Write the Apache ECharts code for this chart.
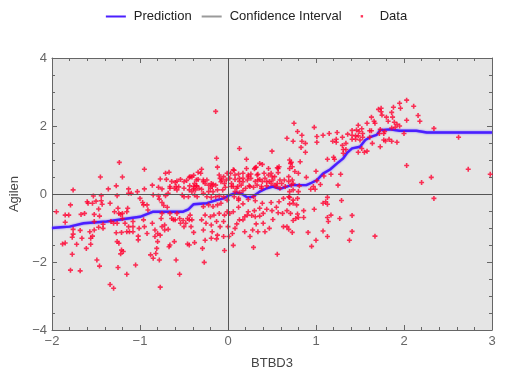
<!DOCTYPE html>
<html>
<head>
<meta charset="utf-8">
<script src="https://cdn.jsdelivr.net/npm/echarts@6/dist/echarts.min.js"></script>
<style>
html,body{margin:0;padding:0;background:#fff;}
#chart{width:513px;height:379px;}
</style>
</head>
<body>
<div id="chart"></div>
<script>
// Axis ranges / ticks
const xRange = [-2, 3];
const yRange = [-4, 4];
const xTitle = 'BTBD3';
const yTitle = 'Agilen';
const seriesNames = ['Prediction', 'Confidence Interval', 'Data'];

// Prediction curve
const predX = [-2.0, -1.9, -1.8, -1.64, -1.38, -1.0, -0.85, -0.51, -0.45, -0.39, -0.24, -0.13, -0.05, 0.02, 0.1, 0.16, 0.22, 0.28, 0.36, 0.44, 0.51, 0.59, 0.65, 0.72, 0.89, 0.95, 1.01, 1.08, 1.16, 1.24, 1.31, 1.35, 1.41, 1.5, 1.56, 1.63, 1.69, 1.73, 1.84, 1.95, 2.14, 2.26, 3.0];
const predY = [-1.0, -0.98, -0.96, -0.86, -0.81, -0.67, -0.52, -0.52, -0.45, -0.3, -0.27, -0.18, -0.13, -0.03, 0.04, 0.0, -0.1, -0.08, 0.07, 0.17, 0.22, 0.15, 0.2, 0.26, 0.26, 0.33, 0.41, 0.6, 0.72, 0.9, 1.05, 1.2, 1.34, 1.39, 1.59, 1.69, 1.74, 1.88, 1.9, 1.86, 1.86, 1.81, 1.81];

// Data points, grouped by region [x, y]
const ptsUpperLeft = [[-1.235,0.93],[-1.45,0.50],[-1.20,0.50],[-0.95,0.73],[-1.76,0.12],[-1.36,0.15],[-1.27,0.24],[-1.13,0.15],[-0.95,0.15],[-0.86,0.26],[-0.77,0.44],[-0.71,0.61],[-0.67,0.64],[-0.70,0.43],[-0.64,0.37],[-0.60,0.34],[-0.54,0.43],[-0.56,0.21],[-0.75,0.15],[-0.66,0.17],[-0.47,0.40],[-0.44,0.49],[-0.41,0.50],[-0.39,0.55],[-0.34,0.43],[-0.34,0.64],[-0.38,0.31],[-0.435,0.24],[-0.355,0.24],[-0.39,0.16],[-0.33,0.17]];
const ptsLowerLeft = [[-1.95,-0.52],[-1.85,-0.62],[-1.81,-0.62],[-1.79,-0.32],[-1.85,-0.83],[-1.76,-1.04],[-1.76,-1.18],[-1.77,-1.27],[-1.88,-1.47],[-1.85,-1.44],[-1.77,-1.77],[-1.79,-2.24],[-1.68,-2.26],[-1.72,-1.48],[-1.68,-1.07],[-1.67,-0.60],[-1.63,-0.57],[-1.60,-0.23],[-1.59,-0.27],[-1.54,-0.27],[-1.53,-0.06],[-1.50,-0.21],[-1.44,-0.05],[-1.44,-0.20],[-1.43,-0.30],[-1.47,-0.44],[-1.52,-0.60],[-1.46,-0.65],[-1.66,-1.30],[-1.61,-1.60],[-1.56,-1.48],[-1.56,-1.30],[-1.54,-1.24],[-1.57,-1.11],[-1.52,-1.06],[-1.49,-1.94],[-1.46,-2.12],[-1.42,-1.01],[-1.47,-0.98],[-1.34,-0.27],[-1.29,-0.52],[-1.26,-0.05],[-1.25,-0.42],[-1.24,-0.57],[-1.22,-0.60],[-1.20,-0.57],[-1.20,-0.72],[-1.15,-0.52],[-1.14,-0.42],[-1.13,0.02],[-1.10,0.02],[-1.03,0.07],[-1.00,-0.13],[-0.97,-0.25],[-0.96,-0.32],[-0.92,-0.32],[-0.91,-0.47],[-1.26,-0.86],[-1.30,-0.86],[-1.33,-0.81],[-1.27,-1.14],[-1.21,-1.13],[-1.26,-1.40],[-1.24,-1.45],[-1.21,-1.65],[-1.19,-1.69],[-1.22,-1.76],[-1.25,-2.16],[-1.15,-1.11],[-1.12,-1.11],[-1.13,-0.96],[-1.08,-0.96],[-1.08,-1.11],[-1.02,-1.24],[-1.02,-1.35],[-1.01,-1.01],[-1.05,-2.09],[-1.15,-2.36],[-1.34,-2.66],[-1.30,-2.77],[-1.08,-0.81],[-1.17,-0.86],[-1.42,-0.89],[-1.52,-0.81]];
const ptsMidLeft = [[-0.96,-0.76],[-0.95,-0.96],[-0.92,-1.16],[-0.86,-0.86],[-0.88,-1.79],[-0.85,-1.89],[-0.82,-1.75],[-0.78,-1.94],[-0.81,-1.60],[-0.80,-1.40],[-0.83,-1.06],[-0.80,-1.16],[-0.83,-1.25],[-0.77,-1.21],[-0.75,-0.96],[-0.75,-0.57],[-0.76,-0.72],[-0.72,-0.91],[-0.72,-1.06],[-0.79,-0.06],[-0.85,-0.03],[-0.78,-0.15],[-0.75,-0.25],[-0.73,-0.34],[-0.71,-0.05],[-0.68,0.02],[-0.66,0.22],[-0.69,-0.39],[-0.66,-0.57],[-0.64,-0.72],[-0.62,-0.76],[-0.60,-0.76],[-0.68,-1.04],[-0.67,-1.55],[-0.66,-1.50],[-0.61,-1.40],[-0.59,-1.94],[-0.55,-2.36],[-0.77,-2.74],[-0.58,-0.57],[-0.55,-0.72],[-0.54,-0.86],[-0.51,-0.78],[-0.50,-0.96],[-0.48,-0.86],[-0.46,-0.72],[-0.44,-0.76],[-0.43,-0.62],[-0.41,-0.76],[-0.39,-1.13],[-0.38,-1.43],[-0.44,-1.50],[-0.46,-1.47],[-0.42,-0.96],[-0.45,-0.08],[-0.50,-0.08],[-0.52,-0.03],[-0.50,0.17],[-0.44,0.12],[-0.41,0.07],[-0.37,0.12],[-0.38,-0.03],[-0.35,-0.08],[-0.36,0.24],[-0.50,0.36],[-0.58,0.38],[-0.59,0.22],[-0.61,0.17],[-0.79,0.20],[-0.58,0.12]];
const ptsCenter = [[-0.13,1.05],[-0.12,0.79],[-0.30,0.73],[-0.31,0.61],[-0.28,0.41],[-0.26,0.31],[-0.22,0.26],[-0.19,0.31],[-0.18,0.22],[-0.14,0.26],[-0.10,0.56],[-0.09,0.46],[-0.08,0.36],[-0.05,0.51],[-0.04,0.31],[-0.02,0.41],[-0.01,0.61],[-0.03,0.20],[-0.06,0.12],[-0.12,0.12],[-0.17,0.07],[-0.22,0.07],[-0.28,0.02],[-0.30,0.14],[-0.24,-0.08],[-0.19,-0.10],[-0.14,-0.08],[-0.10,-0.06],[-0.05,-0.08],[-0.01,-0.18],[-0.08,-0.27],[-0.12,-0.32],[-0.17,-0.37],[-0.22,-0.32],[-0.28,-0.37],[-0.26,-0.62],[-0.20,-0.67],[-0.16,-0.62],[-0.10,-0.57],[-0.04,-0.62],[-0.01,-0.52],[-0.30,-0.76],[-0.25,-0.86],[-0.19,-0.91],[-0.13,-0.81],[-0.09,-0.96],[-0.05,-0.81],[0.00,-0.96],[-0.28,-1.06],[-0.18,-1.11],[-0.12,-1.21],[-0.05,-1.25],[-0.19,-1.30],[-0.29,-1.60],[-0.27,-2.01],[-0.26,-1.36],[-0.13,-1.32],[-0.04,-1.66],[-0.14,2.43],
  [-0.43,0.51],[-0.36,0.41],[-0.28,0.36],[-0.24,0.41],[-0.17,0.29],[-0.07,0.41],[0.02,0.46],[0.04,0.22],[0.08,0.56],[0.13,0.46],[0.17,0.36],[0.23,0.51],[0.25,0.22],[0.33,0.56],[0.34,0.41],[0.38,0.22],[0.44,0.36],[0.50,0.51],[0.53,0.26],[0.57,0.75],[0.59,0.41],[0.65,0.22],[0.69,0.51],[0.74,0.31],[0.76,0.66],[-0.20,0.17],[0.10,0.17],[-0.39,0.22]];
const ptsLowerRight = [[0.06,-1.51],[0.01,-1.25],[0.29,-1.57],[0.25,-1.25],[0.56,-1.77],[0.95,-1.54],[1.00,-1.36],[1.13,-1.25],[0.49,-0.25],[0.55,-0.39],[0.57,-0.55],[0.50,-0.49],[0.44,-0.45],[0.40,-0.57],[0.36,-0.65],[0.31,-0.67],[0.27,-0.63],[0.22,-0.62],[0.19,-0.67],[0.17,-0.76],[0.13,-0.76],[0.10,-0.88],[0.08,-1.01],[0.05,-1.16],[0.19,-1.11],[0.28,-1.06],[0.34,-1.11],[0.32,-0.88],[0.40,-0.86],[0.42,-1.11],[0.47,-1.01],[0.51,-0.75],[0.63,-0.96],[0.67,-0.96],[0.69,-1.04],[0.73,-1.13],[0.62,-0.57],[0.67,-0.49],[0.71,-0.57],[0.74,-0.78],[0.77,-0.72],[0.79,-0.59],[0.80,-0.69],[0.86,-0.49],[0.86,-0.69],[0.91,-1.13],[0.98,-0.45],[1.08,-1.09],[1.13,-0.69],[1.14,-0.81],[1.17,-0.62],[1.27,-0.72],[1.38,-1.36],[1.11,-0.23],[1.13,-0.10],[1.13,-0.30],[1.29,-0.19],[1.25,0.26],[1.05,0.28],[0.99,0.14],[0.94,0.14],[0.39,-0.27],[0.36,-0.42],[0.30,-0.49],[0.23,-0.52],[0.17,-0.29],[0.12,-0.39],[0.06,-0.52],[0.02,-0.57],[0.23,-0.16],[0.31,-0.20],[0.12,-0.18],[0.70,-0.29],[0.74,-0.18],[0.78,-0.32],[0.70,-0.10],[0.63,-0.13],[0.58,-0.23]];
const ptsUpperCenter = [[0.21,1.02],[0.36,0.90],[0.39,0.87],[0.32,0.79],[0.30,0.74],[0.06,0.71],[0.12,0.59],[0.17,0.61],[0.23,0.56],[0.26,0.59],[0.34,0.58],[0.41,0.61],[0.46,0.56],[0.49,0.61],[0.53,0.51],[0.57,0.63],[0.58,0.80],[0.70,1.0],[0.71,0.90],[0.73,0.80],[0.80,0.61],[0.82,0.95],[0.88,1.23],[0.73,0.41],[0.69,0.37],[0.64,0.41],[0.61,0.31],[0.56,0.31],[0.51,0.41],[0.47,0.37],[0.42,0.46],[0.39,0.37],[0.36,0.43],[0.31,0.37],[0.26,0.46],[0.22,0.41],[0.17,0.46],[0.13,0.37],[0.08,0.43],[0.04,0.31],[0.06,0.22],[0.11,0.22],[0.15,0.26],[0.20,0.17],[0.24,0.24],[0.29,0.20],[0.33,0.26],[0.38,0.17],[0.44,0.24],[0.49,0.31],[0.55,0.22],[0.59,0.17],[0.08,0.07],[0.13,0.04],[0.17,0.10],[0.07,-0.08],[0.12,-0.13],[0.29,-0.08],[0.69,-0.08],[0.74,-0.27],[0.79,-0.13],[0.70,0.07],[0.74,0.12],[0.80,0.07],[0.72,0.26],[0.81,0.24],[0.97,0.22],[1.08,-0.27]];
const ptsUpperMid = [[0.13,1.34],[0.50,1.26],[0.67,1.64],[0.75,2.08],[0.79,1.84],[0.74,1.55],[0.84,1.73],[0.84,1.55],[0.83,1.37],[0.88,1.49],[0.72,0.93],[0.98,1.96],[1.01,1.69],[1.01,1.52],[1.08,1.73],[1.15,1.78],[1.19,1.55],[1.23,1.61],[1.23,1.52],[1.24,1.81],[1.30,1.67],[1.30,1.43],[1.34,1.49],[1.36,1.76],[1.34,1.31],[1.31,1.31],[1.13,1.02],[1.20,1.08],[1.21,1.02],[1.28,0.58],[1.17,0.58],[1.00,0.67],[1.09,0.53],[1.01,0.39],[0.89,0.49],[0.07,0.70],[0.03,0.61],[0.21,0.75],[0.31,0.77],[0.46,0.75],[0.56,0.77],[0.70,0.75]];
const ptsRight = [[2.03,2.76],[1.95,2.67],[1.96,2.52],[1.88,2.55],[2.11,2.58],[1.74,2.52],[1.71,2.49],[1.74,2.42],[1.75,2.32],[1.86,2.40],[2.16,2.31],[2.18,2.14],[2.03,2.17],[1.80,2.26],[1.87,2.26],[1.82,2.14],[1.89,2.11],[1.92,2.05],[1.95,2.0],[1.90,1.96],[1.86,1.94],[1.78,1.84],[1.77,1.78],[1.73,1.90],[1.72,1.78],[1.63,2.26],[1.66,2.14],[1.67,2.08],[1.58,2.08],[1.48,2.02],[1.52,1.92],[1.49,1.84],[1.46,1.88],[1.41,1.87],[1.41,1.73],[1.45,1.71],[1.48,1.71],[1.41,1.61],[1.45,1.61],[1.50,1.59],[1.53,1.67],[1.53,1.78],[1.61,1.86],[1.63,1.86],[1.61,1.67],[1.64,1.49],[1.52,1.34],[1.55,1.23],[1.58,1.26],[1.48,1.23],[1.31,1.20],[1.73,1.39],[1.77,1.59],[1.79,1.56],[1.83,1.61],[1.86,1.55],[1.92,1.52],[2.00,1.78],[2.03,0.84],[2.34,1.93],[2.62,1.67],[2.73,0.73],[2.31,0.49],[2.20,0.34],[2.98,0.58],[2.34,-0.13],[1.41,-0.63],[1.41,-1.10],[1.67,-1.24]];

const allPoints = [].concat(ptsUpperLeft, ptsLowerLeft, ptsMidLeft, ptsCenter, ptsLowerRight, ptsUpperCenter, ptsUpperMid, ptsRight);
const predData = predX.map((x, i) => [x, predY[i]]);

const BLUE = '#4b1fff';
const GRAY = '#9a9a9a';
const RED = '#ff0030';
const FRAME = '#666666';
const plusPath = 'path://M1.7,0H3.3V1.7H5V3.3H3.3V5H1.7V3.3H0V1.7H1.7Z';
const lineIcon = 'path://M0,0M0,3L20,3L20,5L0,5ZM20,8';
const dotIcon = 'path://M0,0M9,2.6L11.4,2.6L11.4,5L9,5ZM20,8';
const fmt = v => String(v).replace('-', '\u2212');

const axisCommon = {
  type: 'value',
  axisLine: { show: true, onZero: false, lineStyle: { color: FRAME, width: 1 } },
  axisTick: { show: true, inside: true, length: 5, lineStyle: { color: FRAME } },
  minorTick: { show: true, length: 3, lineStyle: { color: FRAME } },
  splitLine: { show: false },
  minorSplitLine: { show: false }
};

const chart = echarts.init(document.getElementById('chart'), null, { renderer: 'canvas' });
chart.setOption({
  backgroundColor: '#ffffff',
  animation: false,
  textStyle: { fontFamily: 'Liberation Sans, Arial, sans-serif' },
  grid: { left: 52, right: 21, top: 58, bottom: 49, show: true, backgroundColor: '#e5e5e5', borderWidth: 0 },
  legend: {
    top: 5, left: 'center', itemGap: 10, itemWidth: 20, itemHeight: 8,
    textStyle: { fontSize: 13, color: '#222', padding: [0, 0, 0, 3] },
    data: [
      { name: seriesNames[0], icon: lineIcon },
      { name: seriesNames[1], icon: lineIcon },
      { name: seriesNames[2], icon: dotIcon }
    ]
  },
  xAxis: [
    Object.assign({}, axisCommon, {
      min: xRange[0], max: xRange[1], interval: 1, position: 'bottom',
      minorTick: Object.assign({}, axisCommon.minorTick, { splitNumber: 5 }),
      axisLabel: { color: '#666', fontSize: 13, margin: 5, formatter: fmt },
      name: xTitle, nameLocation: 'middle', nameGap: 27,
      nameTextStyle: { color: '#444', fontSize: 13 }
    }),
    Object.assign({}, axisCommon, {
      min: xRange[0], max: xRange[1], interval: 1, position: 'top',
      minorTick: Object.assign({}, axisCommon.minorTick, { splitNumber: 5 }),
      axisLabel: { show: false }
    })
  ],
  yAxis: [
    Object.assign({}, axisCommon, {
      min: yRange[0], max: yRange[1], interval: 2, position: 'left',
      minorTick: Object.assign({}, axisCommon.minorTick, { splitNumber: 4 }),
      axisLabel: { color: '#666', fontSize: 13, margin: 5, formatter: fmt },
      name: yTitle, nameLocation: 'middle', nameGap: 21, nameRotate: 90,
      nameTextStyle: { color: '#444', fontSize: 13 }
    }),
    Object.assign({}, axisCommon, {
      min: yRange[0], max: yRange[1], interval: 2, position: 'right',
      minorTick: Object.assign({}, axisCommon.minorTick, { splitNumber: 4 }),
      axisLabel: { show: false }
    })
  ],
  series: [
    {
      name: seriesNames[0], type: 'line', data: predData, showSymbol: false, symbol: 'none',
      color: BLUE, z: 3,
      lineStyle: { color: BLUE, width: 2.4, shadowColor: 'rgba(110,90,255,0.9)', shadowBlur: 2 },
      itemStyle: { color: BLUE }
    },
    {
      name: seriesNames[1], type: 'line', data: [], showSymbol: false, symbol: 'none',
      color: GRAY, lineStyle: { color: GRAY }, itemStyle: { color: GRAY }
    },
    {
      name: seriesNames[2], type: 'scatter', data: allPoints, symbol: plusPath, symbolSize: 5,
      color: RED, itemStyle: { color: RED }, z: 4,
      markLine: {
        silent: true, symbol: 'none', animation: false,
        label: { show: false },
        lineStyle: { color: '#555', width: 1, type: 'solid' },
        emphasis: { disabled: true },
        data: [{ xAxis: 0 }, { yAxis: 0 }]
      }
    }
  ]
});
</script>
</body>
</html>
